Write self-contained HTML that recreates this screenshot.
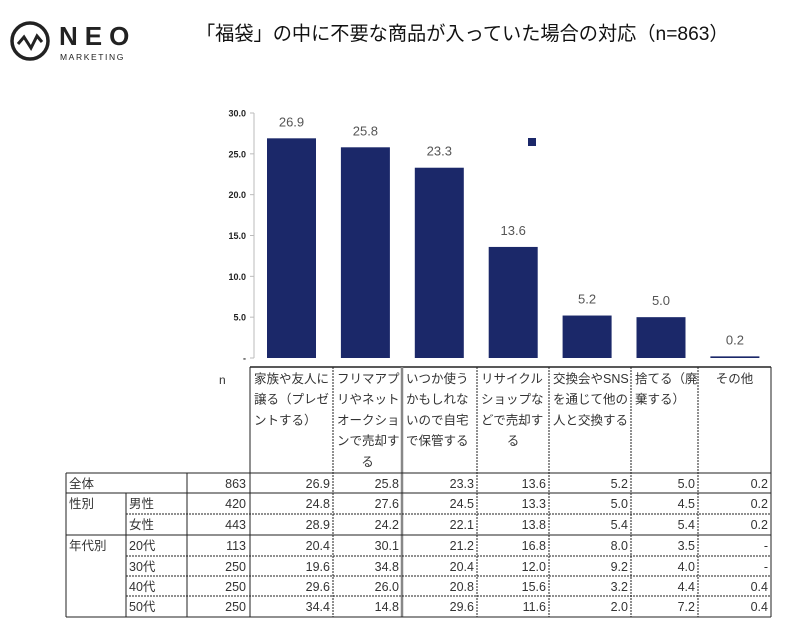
<!DOCTYPE html>
<html><head><meta charset="utf-8"><style>
body{margin:0;background:#fff;width:793px;height:636px;overflow:hidden}
svg text{font-family:"Liberation Sans","Noto Sans CJK JP",sans-serif}
</style></head><body>
<svg id="s" width="793" height="636" xmlns="http://www.w3.org/2000/svg">
<g>
<circle cx="30" cy="41" r="18" fill="none" stroke="#222" stroke-width="3.5"/>
<polyline points="18,44 24,37 31,48 37,36 42,42" fill="none" stroke="#222" stroke-width="3"/>
<text x="59" y="45" font-size="26" font-weight="bold" letter-spacing="7" fill="#222">NEO</text>
<text x="60" y="60" font-size="8.5" letter-spacing="1.6" fill="#222">MARKETING</text>
</g>
<text x="196" y="40" font-size="19.2" fill="#111">「福袋」の中に不要な商品が入っていた場合の対応（n=863）</text>
<g id="axis"></g><g id="bars"></g>
<rect x="528" y="138" width="8" height="8" fill="#1b2869"/>
<g id="table"></g>
</svg>
<script>
const categories=["家族や友人に譲る（プレゼントする）","フリマアプリやネットオークションで売却する","いつか使うかもしれないので自宅で保管する","リサイクルショップなどで売却する","交換会やSNSを通じて他の人と交換する","捨てる（廃棄する）","その他"];
const headerLines=[["家族や友人に","譲る（プレゼ","ントする）"],["フリマアプ","リやネット","オークショ","ンで売却す","る"],["いつか使う","かもしれな","いので自宅","で保管する"],["リサイクル","ショップな","どで売却す","る"],["交換会やSNS","を通じて他の","人と交換する"],["捨てる（廃","棄する）"],["その他"]];
const values=[26.9,25.8,23.3,13.6,5.2,5.0,0.2];
const yTicks=[0,5,10,15,20,25,30];
const yTickLabels=["-","5.0","10.0","15.0","20.0","25.0","30.0"];
const rowLabels1=["全体","性別","","年代別","","",""];
const rowLabels2=["","男性","女性","20代","30代","40代","50代"];
const rowN=[863,420,443,113,250,250,250];
const rowVals=[["26.9","25.8","23.3","13.6","5.2","5.0","0.2"],["24.8","27.6","24.5","13.3","5.0","4.5","0.2"],["28.9","24.2","22.1","13.8","5.4","5.4","0.2"],["20.4","30.1","21.2","16.8","8.0","3.5","-"],["19.6","34.8","20.4","12.0","9.2","4.0","-"],["29.6","26.0","20.8","15.6","3.2","4.4","0.4"],["34.4","14.8","29.6","11.6","2.0","7.2","0.4"]];
const NS="http://www.w3.org/2000/svg";
function mk(t,a,p,txt){const e=document.createElementNS(NS,t);for(const k in a)e.setAttribute(k,a[k]);if(txt!==undefined)e.textContent=txt;p.appendChild(e);return e;}
const y0=358,yTop=113,yMax=30;
const y=v=>y0-(v/yMax)*(y0-yTop);
const colX=[250,333,402,477,549,631,698,771];
const x=i=>291.5+i*73.9;
const ax=document.getElementById('axis');
let l=mk('line',{x1:254,y1:yTop,x2:254,y2:y0,stroke:'#bbb'},ax);


yTicks.forEach((t,i)=>{
 mk('line',{x1:250,y1:y(t),x2:254,y2:y(t),stroke:'#bbb'},ax);
 const e=mk('text',{x:246,y:y(t)+3.5,'font-size':9,'font-weight':'bold','text-anchor':'end',fill:'#222'},ax,yTickLabels[i]);
 
 
});
const bg=document.getElementById('bars');
values.forEach((v,i)=>{
 const r=mk('rect',{x:x(i)-24.5,y:y(v),width:49,height:Math.max(y0-y(v),1.5),fill:'#1b2869'},bg);
 
 
 const t=mk('text',{x:x(i),y:y(v)-12,'font-size':13,'text-anchor':'middle',fill:'#555'},bg,v.toFixed(1));
 
 
});
const tb=document.getElementById('table');
const rowY=[473,493,514,535,556,576,596,617];
mk('line',{x1:250,y1:367,x2:771,y2:367,stroke:'#222','stroke-width':1.5},tb);
const ht=mk('text',{x:219,y:384,'font-size':12,fill:'#333'},tb,'n');


headerLines.forEach((lines,i)=>{
 const g=mk('g',{},tb);
 
 
 lines.forEach((s,j)=>{
  const last=j===lines.length-1&&j>0&&s.length===1;
  mk('text',{x:(last||i===6)?(colX[i]+colX[i+1])/2:colX[i]+4,y:383+j*20.7,'font-size':12.5,fill:'#333','text-anchor':(last||i===6)?'middle':'start'},g,s);
 });
});
colX.forEach((cx,i)=>{
 const solid=i===0||i===2||i===7;
 mk('line',{x1:cx,y1:367,x2:cx,y2:617,stroke:i===2?'#888':'#222','stroke-width':i===2?2.5:1,'stroke-dasharray':solid?'none':'2,1'},tb);
});
mk('line',{x1:66,y1:473,x2:66,y2:617,stroke:'#222'},tb);
mk('line',{x1:126,y1:493,x2:126,y2:617,stroke:'#222'},tb);
mk('line',{x1:187,y1:473,x2:187,y2:617,stroke:'#222'},tb);
rowY.forEach((ry,i)=>{
 const solid=[0,1,3,7].includes(i);
 const x1=(i===2||i>=4&&i<7)?126:66;
 mk('line',{x1:x1,y1:ry,x2:771,y2:ry,stroke:'#222','stroke-dasharray':solid?'none':'2,1'},tb);
});
rowN.forEach((n,i)=>{
 const ty=rowY[i]+15;
 const g=mk('g',{},tb);
 
 
 if(rowLabels1[i])mk('text',{x:69,y:ty,'font-size':12.5,fill:'#333'},g,rowLabels1[i]);
 if(rowLabels2[i])mk('text',{x:129,y:ty,'font-size':12.5,fill:'#333'},g,rowLabels2[i]);
 mk('text',{x:246,y:ty,'font-size':12.5,fill:'#333','text-anchor':'end'},g,String(n));
 rowVals[i].forEach((v,j)=>mk('text',{x:colX[j+1]-3,y:ty,'font-size':12.5,fill:'#333','text-anchor':'end'},g,v));
});
</script>
</body></html>
